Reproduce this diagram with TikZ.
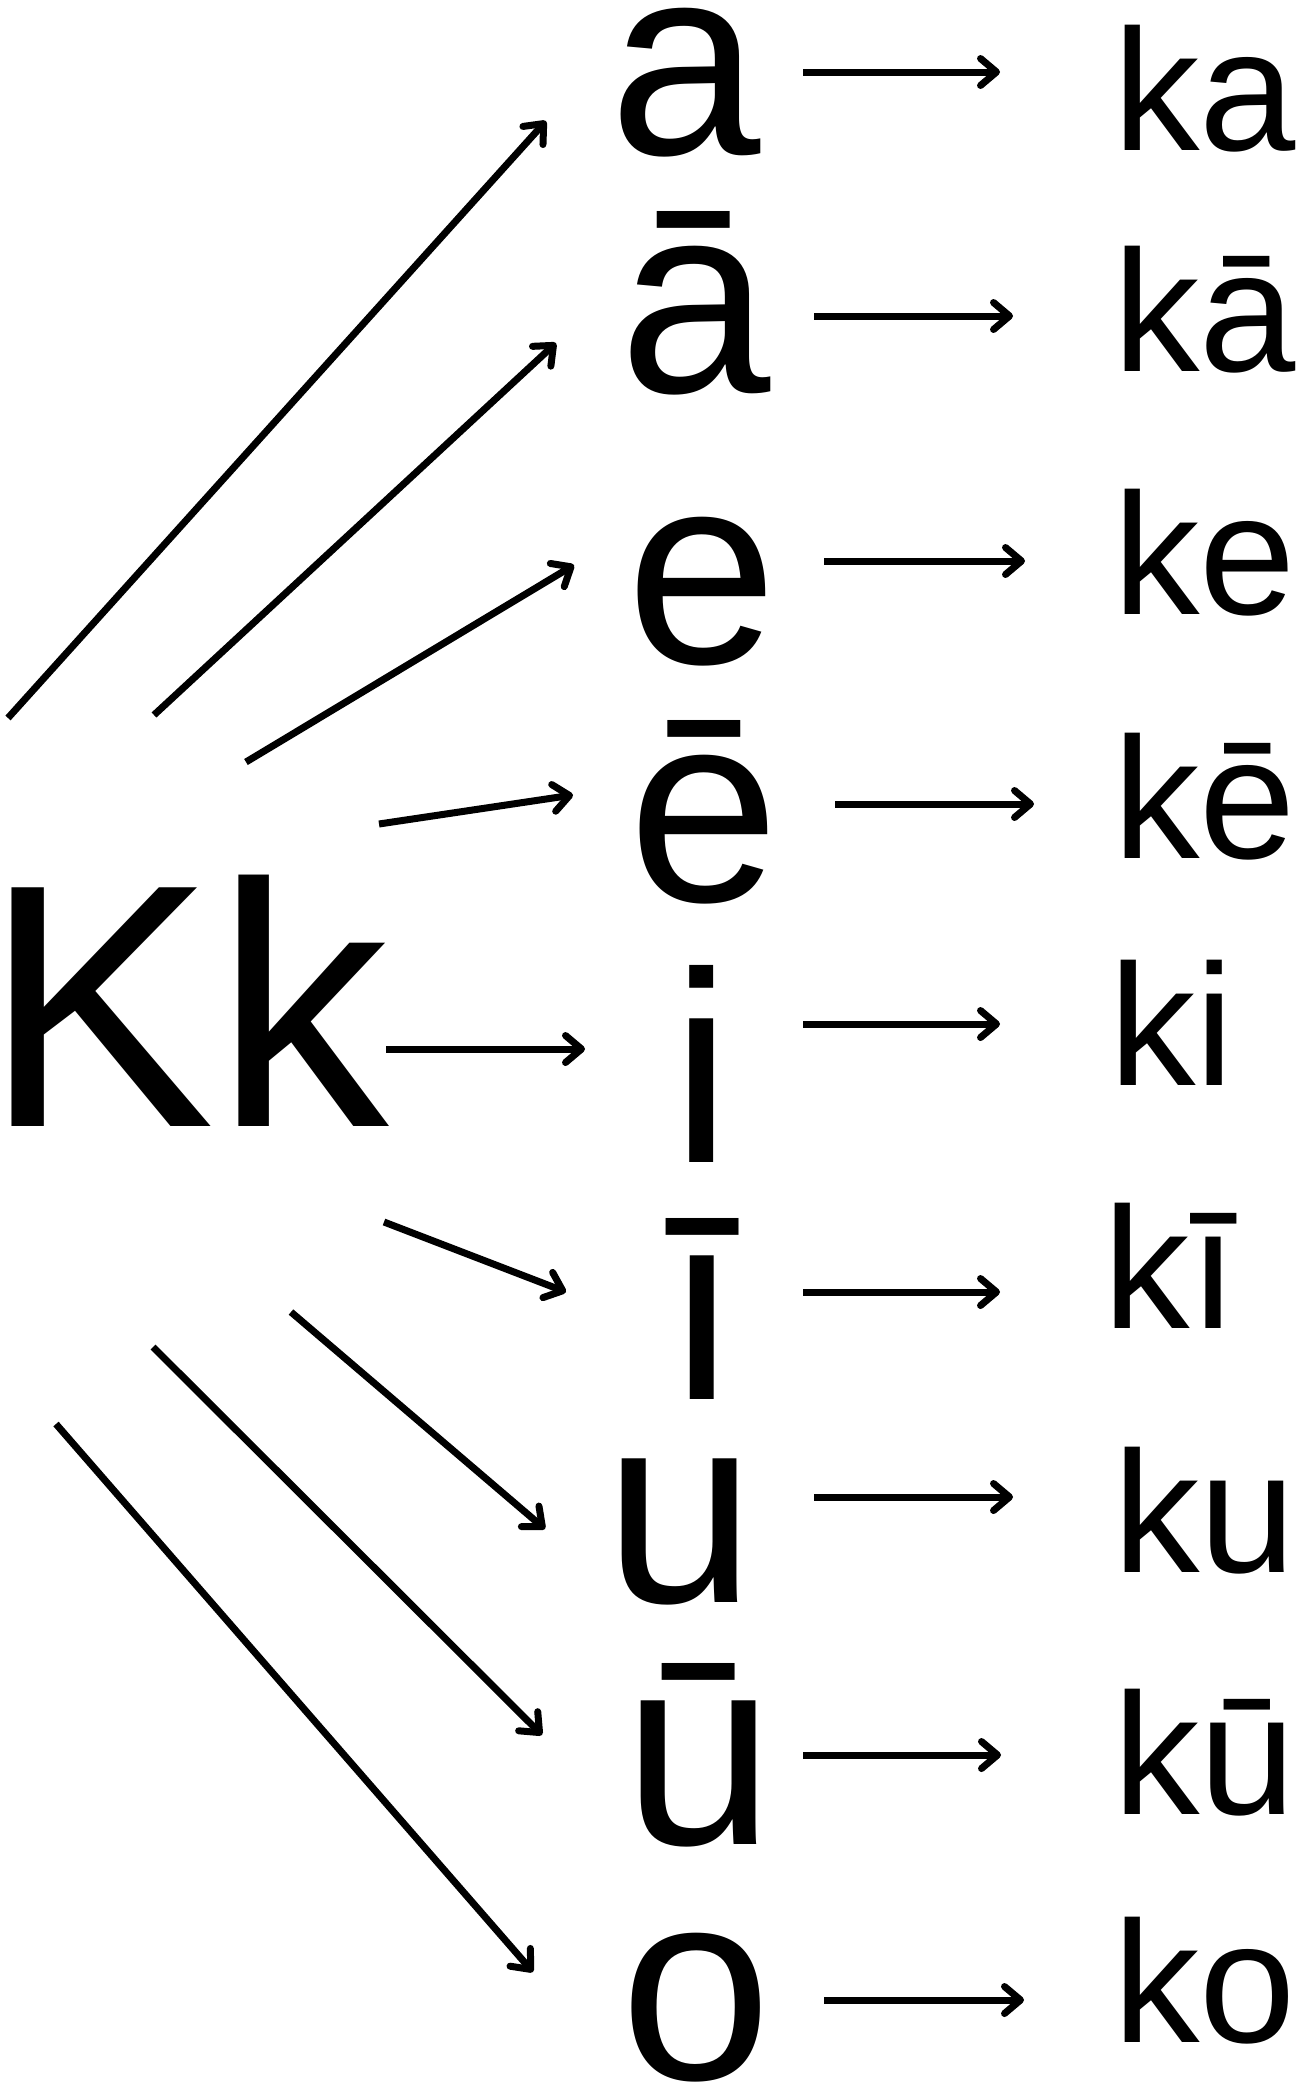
\documentclass[tikz,border=0pt]{standalone}
\usepackage{fontspec}
\setmainfont{Liberation Sans}
\usetikzlibrary{arrows.meta}
\begin{document}
\begin{tikzpicture}[x=1pt,y=-1pt,
  big/.style={font=\fontsize{347}{400}\selectfont, inner sep=0pt, text height=0.72em, text depth=0pt, anchor=base west},
  vow/.style={font=\fontsize{272}{300}\selectfont, inner sep=0pt, text height=0.5em, text depth=0pt, anchor=base},
  syl/.style={font=\fontsize{173}{200}\selectfont, inner sep=0pt, text height=0.72em, text depth=0pt, anchor=base west},
  arr/.style={line width=7pt, line cap=butt, -{Straight Barb[round,length=16pt,width=27pt,line width=7pt]}}]
\useasboundingbox (0,0) rectangle (1307,2085);
% source
\node[big] (Kk) at (9,1126) {\hspace*{-0.073em}Kk};
% vowels
\node[vow] (a)  at (685,154)  {a};
\node[vow] (aa) at (695,392)  {ā};
\node[vow] (e)  at (702,663)  {e};
\node[vow] (ee) at (704,901)  {ē};
\node[vow] (i)  at (702,1162) {i};
\node[vow] (ii) at (702,1399) {ī};
\node[vow] (u)  at (680,1602) {u};
\node[vow] (uu) at (699,1844) {ū};
\node[vow] (o)  at (696,2079) {o};
% syllables
\node[syl] (ka)  at (1113,150)  {ka};
\node[syl] (kaa) at (1113,371)  {kā};
\node[syl] (ke)  at (1113,614)  {ke};
\node[syl] (kee) at (1113,858)  {kē};
\node[syl] (ki)  at (1109,1085) {ki};
\node[syl] (kii) at (1103,1328) {kī};
\node[syl] (ku)  at (1113,1572) {ku};
\node[syl] (kuu) at (1113,1814) {kū};
\node[syl] (ko)  at (1113,2042) {ko};
% diagonal arrow ends
\coordinate (s1) at (8,718);     \coordinate (t1) at (546,121);
\coordinate (s2) at (154,715);   \coordinate (t2) at (556,343);
\coordinate (s3) at (246,762);   \coordinate (t3) at (574,565);
\coordinate (s4) at (379,824);   \coordinate (t4) at (573,795);
\coordinate (s5) at (386,1049);  \coordinate (t5) at (585,1049);
\coordinate (s6) at (384,1222);  \coordinate (t6) at (566,1292);
\coordinate (s7) at (291,1312);  \coordinate (t7) at (545,1529);
\coordinate (s8) at (153,1347);  \coordinate (t8) at (542,1735);
\coordinate (s9) at (56,1424);   \coordinate (t9) at (533,1972);
\foreach \k in {1,...,9} {\draw[arr] (s\k) -- (t\k);}
% horizontal arrows
\coordinate (h1) at (803,72);    \coordinate (g1) at (1000,72);
\coordinate (h2) at (814,316);   \coordinate (g2) at (1013,316);
\coordinate (h3) at (824,561);   \coordinate (g3) at (1025,561);
\coordinate (h4) at (835,804);   \coordinate (g4) at (1034,804);
\coordinate (h5) at (803,1024);  \coordinate (g5) at (1000,1024);
\coordinate (h6) at (803,1292);  \coordinate (g6) at (1000,1292);
\coordinate (h7) at (814,1497);  \coordinate (g7) at (1013,1497);
\coordinate (h8) at (803,1755);  \coordinate (g8) at (1001,1755);
\coordinate (h9) at (824,2000);  \coordinate (g9) at (1024,2000);
\foreach \k in {1,...,9} {\draw[arr] (h\k) -- (g\k);}
\end{tikzpicture}
\end{document}
